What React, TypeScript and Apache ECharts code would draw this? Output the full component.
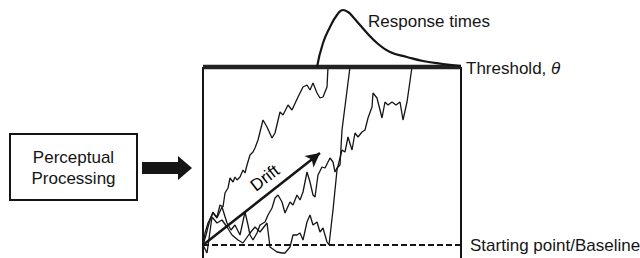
import React, { useEffect, useRef } from "react";
import * as echarts from "echarts";

// Evidence accumulation units: x = time (0..258), y = evidence (0 = baseline, 178 = threshold)
const X_MAX = 258;
const THRESHOLD = 178;
const BASELINE = 0;
const FRAME_BOTTOM = -14;

const walk1: [number, number][] = [
  [0, 0], [3, 10], [5, 18], [8, 28], [10, 33], [12, 30], [14, 28], [17, 40], [20, 38], [22, 52],
  [25, 57], [27, 67], [30, 63], [32, 68], [34, 65], [37, 68], [40, 75], [42, 72], [44, 80], [47, 90],
  [50, 93], [52, 97], [55, 105], [60, 125], [64, 118], [69, 107], [72, 112], [77, 133], [80, 130],
  [85, 140], [89, 135], [95, 148], [100, 158], [104, 160], [107, 155], [110, 162], [114, 152],
  [117, 147], [120, 148], [124, 158], [125, 178],
];

const walk2: [number, number][] = [
  [0, 0], [2, 12], [5, 22], [10, 32], [14, 27], [19, 38], [24, 22], [28, 15], [32, 20], [37, 10],
  [42, 33], [45, 20], [47, 10], [50, 5], [54, 12], [57, 20], [62, 23], [65, 30], [69, 37], [72, 47],
  [75, 50], [79, 43], [82, 32], [87, 43], [90, 40], [94, 50], [97, 45], [100, 53], [104, 73],
  [107, 63], [110, 50], [112, 48], [115, 70], [119, 78], [122, 77], [127, 87], [130, 83], [132, 73],
  [134, 77], [137, 80], [139, 115], [147, 178],
];

const walk3: [number, number][] = [
  [0, 0], [4, -8], [9, 28], [14, 22], [19, 25], [24, 18], [29, 10], [35, 5], [40, 2], [47, 12],
  [52, 18], [57, 13], [64, 22], [67, -2], [74, -7], [79, -8], [82, -8], [87, -2], [90, 10], [94, 10],
  [97, 12], [100, 5], [104, 23], [107, 30], [110, 20], [114, 23], [117, 13], [120, 17], [124, 3],
  [126, 0], [130, 35], [134, 75], [139, 95], [142, 93], [145, 108], [149, 95], [152, 112], [155, 108],
  [159, 113], [162, 115], [165, 127], [169, 138], [170, 152], [174, 147], [177, 135], [179, 127],
  [182, 143], [185, 140], [189, 143], [193, 140], [197, 143], [200, 125], [204, 143], [209, 178],
];

const responseTimes: [number, number][] = [
  [114, 178], [120, 202], [127, 218], [134, 230], [140, 235], [145, 233], [150, 228], [157, 220],
  [164, 212], [174, 202], [187, 193], [204, 188], [220, 184], [240, 181], [258, 179],
];

const driftStart: [number, number] = [0, 0];
const driftEnd: [number, number] = [117, 92];
const driftLabelAt: [number, number] = [62, 67];

const labels = {
  response: "Response times",
  threshold: "Threshold, ",
  theta: "θ",
  baseline: "Starting point/Baseline",
  drift: "Drift",
  box1: "Perceptual",
  box2: "Processing",
};

const FONT = "'Liberation Sans', Arial, sans-serif";
const INK = "#151515";

export default function App() {
  const ref = useRef<HTMLDivElement>(null);
  useEffect(() => {
    document.body.style.margin = "0";
    const chart = echarts.init(ref.current!, null, { renderer: "svg" });
    const walkStyle = { color: INK, width: 1.3 };
    const lineSeries = (data: [number, number][], lineStyle: any, extra: any = {}) => ({
      type: "line",
      data,
      showSymbol: false,
      symbol: "none",
      clip: false,
      silent: true,
      lineStyle,
      ...extra,
    });
    chart.setOption({
      animation: false,
      backgroundColor: "#ffffff",
      grid: { left: 203, top: 67, width: 258, height: 178 },
      xAxis: { type: "value", min: 0, max: X_MAX, show: false },
      yAxis: { type: "value", min: BASELINE, max: THRESHOLD, show: false },
      series: [
        lineSeries([[0, THRESHOLD], [0, FRAME_BOTTOM]], { color: INK, width: 2 }),
        lineSeries([[X_MAX, THRESHOLD], [X_MAX, FRAME_BOTTOM]], { color: INK, width: 2 }),
        lineSeries([[0, BASELINE], [X_MAX, BASELINE]], { color: INK, width: 2, type: [6, 3] }),
        lineSeries(walk1, walkStyle),
        lineSeries(walk2, walkStyle),
        lineSeries(walk3, walkStyle),
        lineSeries([[0, THRESHOLD], [X_MAX, THRESHOLD]], { color: "#222", width: 4.5 }),
        lineSeries(responseTimes, { color: INK, width: 2.2 }, { smooth: true }),
        {
          type: "line",
          data: [],
          silent: true,
          markLine: {
            silent: true,
            symbol: ["none", "arrow"],
            symbolSize: [11, 14],
            lineStyle: { color: INK, width: 2.5, type: "solid" },
            label: { show: false },
            data: [[{ coord: driftStart }, { coord: driftEnd }]],
          },
        },
        {
          type: "scatter",
          data: [driftLabelAt],
          symbolSize: 1,
          itemStyle: { color: "rgba(0,0,0,0)", opacity: 1 },
          silent: true,
          clip: false,
          label: {
            show: true,
            position: "inside",
            formatter: labels.drift,
            rotate: 38,
            fontSize: 17,
            fontFamily: FONT,
            color: "#000",
            opacity: 1,
            textBorderWidth: 0,
            textBorderColor: "transparent",
          },
        },
      ],
      graphic: [
        {
          type: "rect",
          shape: { x: 10, y: 134, width: 127, height: 66 },
          style: { fill: "#fff", stroke: INK, lineWidth: 2 },
        },
        {
          type: "text",
          x: 73.5,
          y: 157,
          style: { text: labels.box1, font: `17px ${FONT}`, fill: INK, align: "center", verticalAlign: "middle" },
        },
        {
          type: "text",
          x: 73.5,
          y: 178,
          style: { text: labels.box2, font: `17px ${FONT}`, fill: INK, align: "center", verticalAlign: "middle" },
        },
        {
          type: "polygon",
          shape: { points: [[142, 162], [178, 162], [178, 156], [192, 168], [178, 180], [178, 174], [142, 174]] },
          style: { fill: INK },
        },
        {
          type: "text",
          x: 368,
          y: 21,
          style: { text: labels.response, font: `17px ${FONT}`, fill: INK, verticalAlign: "middle" },
        },
        {
          type: "text",
          x: 466,
          y: 68,
          style: {
            text: labels.threshold + "{i|" + labels.theta + "}",
            font: `17px ${FONT}`,
            fill: INK,
            verticalAlign: "middle",
            rich: { i: { fontStyle: "italic", fontSize: 17, fontFamily: FONT, fill: INK } },
          },
        },
        {
          type: "text",
          x: 470,
          y: 245,
          style: { text: labels.baseline, font: `17px ${FONT}`, fill: INK, verticalAlign: "middle" },
        },
      ],
    });
    return () => chart.dispose();
  }, []);
  return <div ref={ref} style={{ width: 640, height: 258 }} />;
}
